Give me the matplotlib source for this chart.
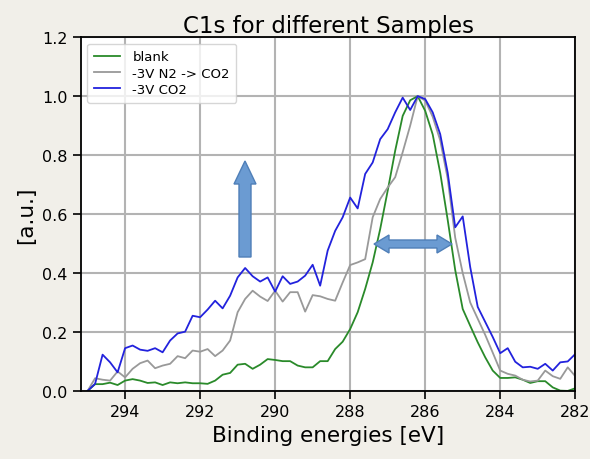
import numpy as np
import matplotlib
matplotlib.use("Agg")
import matplotlib.pyplot as plt
from matplotlib.patches import Polygon

# Binding energy axis, 0.2 eV steps
energies = np.round(np.arange(295.0, 281.99, -0.2), 1)

blank = [0.00, 0.023, 0.023, 0.028, 0.020, 0.035, 0.040, 0.035, 0.027, 0.029,
         0.020, 0.029, 0.026, 0.029, 0.026, 0.026, 0.024, 0.035, 0.055, 0.061,
         0.089, 0.092, 0.075, 0.089, 0.108, 0.105, 0.101, 0.101, 0.086, 0.080,
         0.080, 0.101, 0.101, 0.142, 0.167, 0.210, 0.267, 0.346, 0.436, 0.549,
         0.679, 0.815, 0.933, 0.986, 1.000, 0.950, 0.870, 0.740, 0.580, 0.410,
         0.278, 0.221, 0.165, 0.114, 0.069, 0.044, 0.044, 0.046, 0.038, 0.027,
         0.033, 0.033, 0.012, 0.001, 0.000, 0.009]

n2_co2 = [0.00, 0.043, 0.038, 0.035, 0.066, 0.046, 0.075, 0.094, 0.103, 0.077,
          0.086, 0.092, 0.118, 0.111, 0.137, 0.133, 0.142, 0.118, 0.137, 0.171,
          0.267, 0.312, 0.340, 0.320, 0.305, 0.340, 0.303, 0.335, 0.335, 0.269,
          0.325, 0.321, 0.312, 0.306, 0.368, 0.427, 0.436, 0.447, 0.589, 0.651,
          0.690, 0.725, 0.810, 0.900, 1.000, 0.985, 0.930, 0.850, 0.720, 0.520,
          0.400, 0.300, 0.245, 0.190, 0.130, 0.069, 0.058, 0.052, 0.038, 0.032,
          0.035, 0.069, 0.050, 0.041, 0.080, 0.050]

co2 = [0.00, 0.024, 0.123, 0.097, 0.063, 0.145, 0.154, 0.140, 0.136, 0.145,
       0.131, 0.171, 0.195, 0.201, 0.255, 0.250, 0.276, 0.306, 0.280, 0.323,
       0.385, 0.417, 0.389, 0.371, 0.385, 0.337, 0.389, 0.363, 0.371, 0.391,
       0.428, 0.357, 0.476, 0.543, 0.589, 0.656, 0.619, 0.736, 0.775, 0.854,
       0.888, 0.945, 0.995, 0.953, 1.000, 0.990, 0.945, 0.871, 0.740, 0.555,
       0.592, 0.420, 0.285, 0.234, 0.183, 0.128, 0.145, 0.099, 0.080, 0.082,
       0.075, 0.092, 0.069, 0.097, 0.100, 0.125]

labels = ["blank", "-3V N2 -> CO2", "-3V CO2"]
colors = ["#2a8a2a", "#999999", "#2222dd"]
xticks = [294, 292, 290, 288, 286, 284, 282]

fig = plt.figure(figsize=(5.9, 4.6), dpi=100, facecolor="#f1efe9")
ax = fig.add_axes([0.137, 0.148, 0.838, 0.769])

for y, lab, c in zip([blank, n2_co2, co2], labels, colors):
    ax.plot(energies, y, color=c, lw=1.3, label=lab)

ax.set_xlim(295.18, 282)
ax.set_ylim(0, 1.2)
ax.set_xticks(xticks)
ax.set_yticks(np.arange(0, 1.21, 0.2))
ax.grid(True, color="#b3b3b3", lw=1.5)
ax.tick_params(labelsize=11.5, length=6, width=1.2)
for s in ax.spines.values():
    s.set_linewidth(1.3)

ax.set_title("C1s for different Samples", fontsize=16.5, pad=4)
ax.set_xlabel("Binding energies [eV]", fontsize=15.5)
ax.set_ylabel("[a.u.]", fontsize=15.5)
ax.legend(loc="upper left", fontsize=9.5, handlelength=2.0, borderpad=0.5,
          labelspacing=0.25, handletextpad=0.9)

# arrows (drawn in pixel units)
H = 460.0
def px(points):
    return [(x / 100.0, (H - y) / 100.0) for x, y in points]

up = px([(239, 258), (251, 258), (251, 185), (256, 185), (245, 162),
         (234, 185), (239, 185)])
lr = px([(374, 245), (389, 236), (389, 241), (437, 241), (437, 236),
         (452, 245), (437, 254), (437, 249), (389, 249), (389, 254)])
for pts in (up, lr):
    fig.patches.append(Polygon(pts, closed=True, transform=fig.dpi_scale_trans,
                               facecolor="#6b9bd2", edgecolor="#4f7fb8", lw=1,
                               zorder=5))

fig.savefig("out.png", dpi=100, facecolor=fig.get_facecolor())
